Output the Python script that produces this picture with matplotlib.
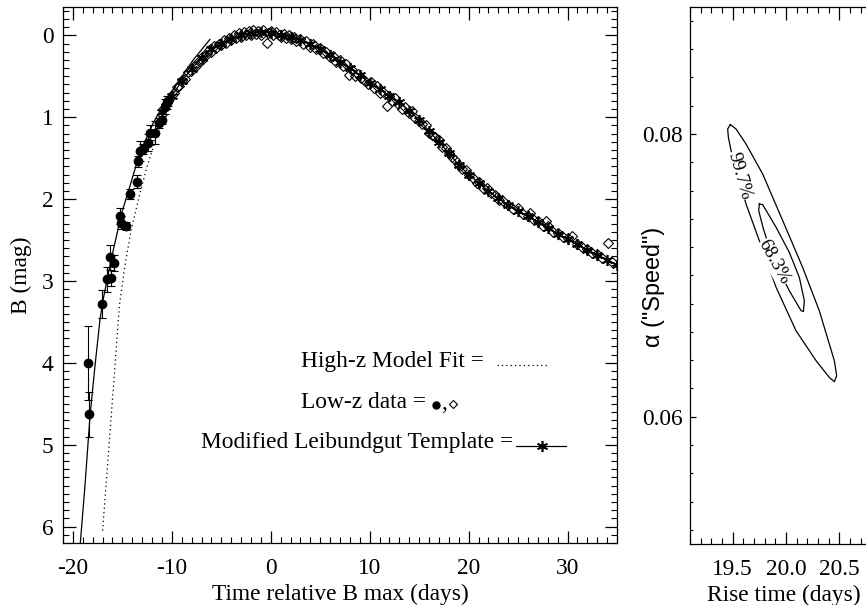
import matplotlib
matplotlib.use("Agg")
import matplotlib.pyplot as plt
from matplotlib.ticker import MultipleLocator, FixedLocator

plt.rcParams['font.family'] = ['Liberation Serif', 'DejaVu Serif']
plt.rcParams['axes.unicode_minus'] = False

# ---------------- data (left panel) ----------------
# early low-z photometry (filled circles) with errors
t_early = [-18.51, -18.34, -17.03, -16.52, -16.15, -16.25, -15.85, -15.24, -15.18,
           -14.64, -14.23, -13.56, -13.39, -13.22, -12.95, -12.38, -12.21, -11.71,
           -11.27, -11.03, -10.70, -10.53, -10.36]
m_early = [4.00, 4.63, 3.28, 2.98, 2.96, 2.71, 2.78, 2.21, 2.29,
           2.33, 1.94, 1.79, 1.54, 1.41, 1.39, 1.31, 1.19, 1.19,
           1.07, 1.03, 0.87, 0.82, 0.80]
e_early = [0.45, 0.27, 0.17, 0.15, 0.10, 0.15, 0.10, 0.10, 0.08,
           0.05, 0.06, 0.08, 0.07, 0.12, 0.06, 0.10, 0.09, 0.14,
           0.06, 0.05, 0.09, 0.08, 0.06]

# low-z data (open diamonds)
t_diam = [-10.9, -10.6, -10.2, -9.8, -9.5, -9.3, -9.0, -8.7, -8.4, -8.1, -7.8, -7.6,
          -7.3, -7.0, -6.8, -6.5, -6.2, -6.0, -5.7, -5.5, -5.2, -5.0, -4.7, -4.5,
          -4.2, -4.0, -3.7, -3.5, -3.2, -3.0, -2.7, -2.5, -2.2, -2.0, -1.8, -1.5,
          -1.3, -1.0, -0.8, -0.4, -0.3, 0.0, 0.2, 0.5, 0.8, 1.0, 1.3, 1.5, 1.8, 2.0,
          2.3, 2.6, 3.0, 3.3, 3.6, 4.0, 4.3, 4.6, 5.0, 5.3, 5.6, 6.0, 6.3, 6.6, 7.0,
          7.3, 7.6, 7.9, 8.2, 8.5, 8.8, 9.1, 9.4, 9.8, 10.1, 10.4, 10.7, 11.0, 11.3,
          11.8, 12.0, 12.3, 12.6, 12.9, 13.3, 13.6, 14.0, 14.3, 14.6, 15.0, 15.3,
          15.7, 16.0, 16.3, 16.6, 17.0, 17.3, 17.7, 18.0, 18.3, 18.6, 19.0, 19.3,
          19.7, 20.0, 20.4, 20.8, 21.1, 21.5, 21.9, 22.3, 22.7, 23.1, 23.5, 24.0,
          24.5, 25.0, 25.5, 26.0, 26.2, 26.5, 27.0, 27.5, 27.85, 28.0, 28.5, 29.0,
          29.5, 30.0, 30.5, 31.0, 31.5, 32.0, 32.5, 33.0, 33.5, 34.1, 34.5]
m_diam = [0.90, 0.84, 0.77, 0.71, 0.63, 0.62, 0.55, 0.53, 0.45, 0.44, 0.37, 0.38,
          0.31, 0.30, 0.25, 0.24, 0.18, 0.20, 0.13, 0.15, 0.10, 0.12, 0.06, 0.09,
          0.03, 0.06, 0.00, 0.03, -0.03, 0.02, -0.04, 0.00, -0.05, -0.01, -0.06, -0.02,
          -0.05, -0.01, -0.06, 0.09, -0.03, -0.05, 0.00, -0.04, -0.01, 0.02, -0.02, 0.03,
          0.00, 0.05, 0.02, 0.07, 0.05, 0.10, 0.07, 0.14, 0.11, 0.17, 0.16, 0.22, 0.20,
          0.27, 0.25, 0.32, 0.30, 0.37, 0.35, 0.48, 0.42, 0.50, 0.47, 0.52, 0.54, 0.60,
          0.57, 0.64, 0.62, 0.71, 0.69, 0.86, 0.74, 0.80, 0.77, 0.84, 0.90, 0.87, 0.95,
          0.92, 1.01, 1.04, 1.08, 1.10, 1.19, 1.22, 1.24, 1.28, 1.36, 1.38, 1.44, 1.48,
          1.52, 1.58, 1.63, 1.64, 1.71, 1.74, 1.80, 1.79, 1.86, 1.87, 1.93, 1.95, 2.01,
          2.02, 2.07, 2.12, 2.11, 2.18, 2.21, 2.17, 2.24, 2.27, 2.33, 2.27, 2.33, 2.40,
          2.41, 2.46, 2.48, 2.45, 2.55, 2.59, 2.61, 2.66, 2.67, 2.72, 2.53, 2.77]

# modified Leibundgut template (solid line + asterisks)
t_tmpl = [-11, -10, -9, -8, -7, -6, -5, -4, -3, -2, -1, 0, 1, 2, 3, 4, 5, 6, 7, 8, 9,
          10, 11, 12, 13, 14, 15, 16, 17, 18, 19, 20, 21, 22, 23, 24, 25, 26, 27, 28,
          29, 30, 31, 32, 33, 34, 35]
m_tmpl = [0.93, 0.74, 0.56, 0.41, 0.28, 0.17, 0.10, 0.04, 0.00, -0.03, -0.04, -0.03,
          -0.01, 0.02, 0.06, 0.11, 0.17, 0.24, 0.32, 0.40, 0.49, 0.58, 0.66, 0.74, 0.82,
          0.92, 1.03, 1.17, 1.30, 1.44, 1.58, 1.70, 1.80, 1.90, 1.99, 2.07, 2.14, 2.21,
          2.28, 2.35, 2.42, 2.49, 2.55, 2.62, 2.68, 2.74, 2.80]

# rising part of the template
t_rise = [-19.25, -18.78, -18.27, -17.77, -17.26, -16.93, -16.08, -15.07, -14.23,
          -13.22, -11.88, -10.53, -9.18, -7.84, -6.15]
m_rise = [6.2, 5.5, 4.65, 4.04, 3.47, 3.22, 2.71, 2.17, 1.84, 1.43, 1.07, 0.78,
          0.54, 0.30, 0.05]

# high-z model fit (dotted)
t_fit = [-17.0, -16.5, -15.75, -15.3, -14.75, -14.1, -13.2, -12.5, -11.5, -10.5]
m_fit = [6.05, 5.26, 4.04, 3.30, 2.82, 2.37, 1.92, 1.60, 1.22, 0.92]

# ---------------- data (right panel) ----------------
rise_997 = [19.478, 19.453, 19.46, 19.485, 19.625, 19.75, 19.907, 20.094, 20.282,
            20.406, 20.453, 20.475, 20.453, 20.406, 20.312, 20.156, 19.969, 19.781,
            19.625, 19.532, 19.478]
alpha_997 = [0.08066, 0.08035, 0.07976, 0.07882, 0.07505, 0.07245, 0.06915, 0.06608,
             0.06396, 0.06278, 0.06248, 0.0629, 0.06396, 0.06514, 0.0675, 0.07056,
             0.07387, 0.07717, 0.07929, 0.08035, 0.08066]
rise_683 = [19.75, 19.781, 19.907, 20.031, 20.125, 20.172, 20.163, 20.141, 20.031,
            19.938, 19.844, 19.788, 19.744, 19.75]
alpha_683 = [0.07505, 0.0750, 0.0734, 0.07162, 0.06985, 0.0682, 0.06745, 0.0675,
             0.06891, 0.07033, 0.07198, 0.07328, 0.07457, 0.07505]

FS = 16.8
W, H = 866, 605
fig = plt.figure(figsize=(W / 100, H / 100), dpi=100)

# ---------------- left panel ----------------
ax1 = fig.add_axes([63 / W, 1 - 543 / H, (617 - 63) / W, (543 - 6.7) / H])
ax1.plot(t_rise, m_rise, color='k', lw=0.9)
ax1.plot(t_fit, m_fit, color='k', lw=0.9, ls=(0, (1, 2.5)))
ax1.plot(t_tmpl, m_tmpl, color='k', lw=0.9, marker=(6, 2, 0), ms=8, mew=1.2)
ax1.plot(t_diam, m_diam, ls='none', marker='D', ms=5.2, mfc='none', mec='k', mew=0.8)
ax1.errorbar(t_early, m_early, yerr=e_early, fmt='o', color='k', ms=6,
             elinewidth=0.8, capsize=3, capthick=0.8)

ax1.set_xlim(-21, 35)
ax1.set_ylim(6.2, -0.35)
ax1.xaxis.set_major_locator(MultipleLocator(10))
ax1.xaxis.set_minor_locator(MultipleLocator(1))
ax1.yaxis.set_major_locator(MultipleLocator(1))
ax1.yaxis.set_minor_locator(MultipleLocator(0.1))
ax1.tick_params(which='both', direction='in', top=True, right=True, labelsize=FS)
ax1.tick_params(which='major', length=9, width=0.9)
ax1.tick_params(which='minor', length=4.5, width=0.8)
ax1.tick_params(axis='x', which='major', pad=11)
ax1.tick_params(axis='y', which='major', pad=7)
ax1.set_xlabel('Time relative B max (days)', fontsize=FS)
ax1.xaxis.set_label_coords(0.5, -0.076)
ax1.set_ylabel('B (mag)', fontsize=FS, labelpad=7)

# in-plot legend
ax1.text(3.1, 3.98, 'High-z Model Fit =', fontsize=FS, ha='left', va='center')
ax1.plot([22.84, 27.99], [4.02, 4.02], color='k', lw=0.9, ls=(0, (1, 2.5)))
ax1.text(3.1, 4.48, 'Low-z data =', fontsize=FS, ha='left', va='center')
ax1.plot([16.75], [4.52], ls='none', marker='o', ms=5, color='k')
ax1.text(17.2, 4.50, ',', fontsize=FS, ha='left', va='center')
ax1.plot([18.42], [4.50], ls='none', marker='D', ms=4, mfc='none', mec='k', mew=0.8)
ax1.text(-7.06, 4.97, 'Modified Leibundgut Template =', fontsize=FS, ha='left', va='center')
ax1.plot([24.83, 29.88], [5.02, 5.02], color='k', lw=0.9)
ax1.plot([27.41], [5.02], ls='none', marker=(6, 2, 0), ms=8, mew=1.2, color='k')

for s in ax1.spines.values():
    s.set_linewidth(0.9)

# ---------------- right panel ----------------
ax2 = fig.add_axes([690 / W, 1 - 544 / H, (876.7 - 690) / W, (544 - 6.7) / H])
ax2.plot(rise_997, alpha_997, color='k', lw=0.9)
ax2.plot(rise_683, alpha_683, color='k', lw=0.9)
ax2.text(19.56, 0.07705, '99.7%', fontsize=13.5, rotation=-74, ha='center', va='center',
         rotation_mode='anchor', bbox=dict(fc='white', ec='none', pad=0.3))
ax2.text(19.89, 0.07092, '68.3%', fontsize=13.5, rotation=-61, ha='center', va='center',
         rotation_mode='anchor', bbox=dict(fc='white', ec='none', pad=0.3))
ax2.set_xlim(19.1, 20.85)
ax2.set_ylim(0.051, 0.089)
ax2.xaxis.set_major_locator(FixedLocator([19.5, 20.0, 20.5]))
ax2.xaxis.set_minor_locator(MultipleLocator(0.1))
ax2.yaxis.set_major_locator(FixedLocator([0.06, 0.08]))
ax2.yaxis.set_minor_locator(MultipleLocator(0.002))
ax2.xaxis.set_major_formatter(plt.FuncFormatter(lambda v, p: f'{v:.1f}'))
ax2.yaxis.set_major_formatter(plt.FuncFormatter(lambda v, p: f'{v:.2f}'))
ax2.tick_params(which='both', direction='in', top=True, right=True, labelsize=FS)
ax2.tick_params(axis='x', which='major', length=9, width=0.9, pad=11)
ax2.tick_params(axis='x', which='minor', length=4.5, width=0.8)
ax2.tick_params(axis='y', which='major', length=4, width=0.9, pad=5)
ax2.tick_params(axis='y', which='minor', length=2, width=0.8)
ax2.set_xlabel('Rise time (days)', fontsize=FS)
ax2.xaxis.set_label_coords(0.5, -0.076)
ax2.set_ylabel('\u03b1 ("Speed")', fontsize=FS, family=['Liberation Sans', 'DejaVu Sans'])
ax2.yaxis.label.set_va('center')
ax2.yaxis.set_label_coords(-0.198, 0.478)
for s in ax2.spines.values():
    s.set_linewidth(0.9)

fig.savefig('out.png', dpi=100)
